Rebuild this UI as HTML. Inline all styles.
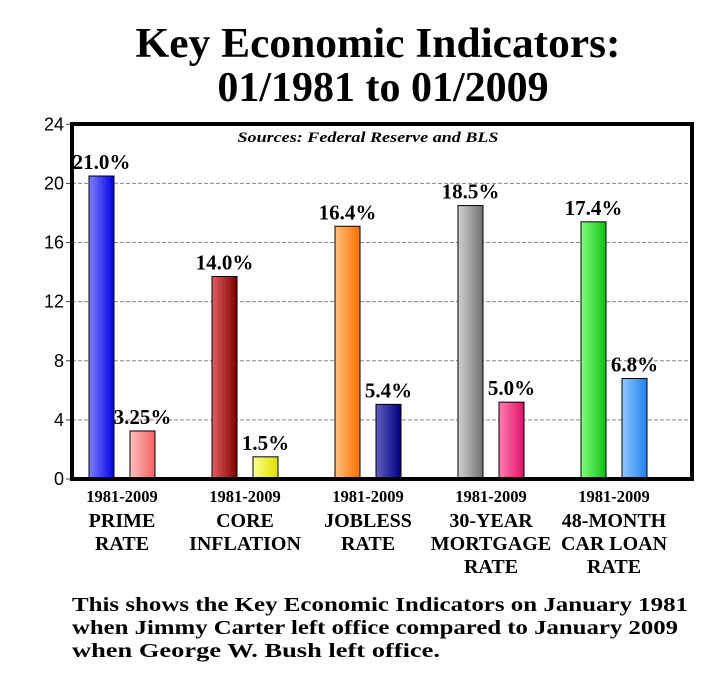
<!DOCTYPE html>
<html><head><meta charset="utf-8"><style>
body{margin:0;background:#fff;width:710px;height:684px;overflow:hidden;font-family:"Liberation Serif",serif}
</style></head><body>
<svg width="710" height="684">
<defs></defs>
<text x="378" y="57" text-anchor="middle" font-size="42" font-weight="bold" textLength="485" lengthAdjust="spacingAndGlyphs">Key Economic Indicators:</text>
<text x="383" y="101" text-anchor="middle" font-size="42" font-weight="bold">01/1981 to 01/2009</text>
<g id="plot"></g>
<text x="72" y="611" font-size="20" font-weight="bold" textLength="616" lengthAdjust="spacingAndGlyphs">This shows the Key Economic Indicators on January 1981</text>
<text x="72" y="634" font-size="20" font-weight="bold" textLength="606" lengthAdjust="spacingAndGlyphs">when Jimmy Carter left office compared to January 2009</text>
<text x="72" y="657" font-size="20" font-weight="bold" textLength="368" lengthAdjust="spacingAndGlyphs">when George W. Bush left office.</text>
</svg>
<script>
const categories=[["PRIME","RATE"],["CORE","INFLATION"],["JOBLESS","RATE"],["30-YEAR","MORTGAGE","RATE"],["48-MONTH","CAR LOAN","RATE"]];
const values1981=[20.5,13.7,17.1,18.5,17.4];
const values2009=[3.25,1.5,5.05,5.2,6.8];
const labels1981=["21.0%","14.0%","16.4%","18.5%","17.4%"];
const labels2009=["3.25%","1.5%","5.4%","5.0%","6.8%"];
const yTicks=[0,4,8,12,16,20,24];
const colors1981=[["#8080ff","#0000e0"],["#e06060","#800000"],["#ffc080","#ff7000"],["#d0d0d0","#707070"],["#80ff80","#10c010"]];
const colors2009=[["#ffc0c0","#f06060"],["#ffff90","#e0e000"],["#6060c0","#000080"],["#ff80b0","#e0106a"],["#90c8ff","#2080f0"]];
const NS="http://www.w3.org/2000/svg";
const plotG=document.getElementById('plot');
const y0=479,k=14.78,plotLeft=72,plotRight=692,plotTop=124;
const yScale=v=>y0-v*k;
const gx=i=>89+i*123;
function mk(t,a,p){const e=document.createElementNS(NS,t);for(const q in a)e.setAttribute(q,a[q]);(p||plotG).appendChild(e);return e;}
const defsEl=document.querySelector('defs');
function grad(id,c){const lg=mk('linearGradient',{id:id,x1:0,x2:1,y1:0,y2:0},defsEl);mk('stop',{offset:0,'stop-color':c[0]},lg);mk('stop',{offset:1,'stop-color':c[1]},lg);}
yTicks.forEach(t=>{
  if(t>0&&t<24){const l=mk('line',{x1:plotLeft,x2:plotRight,y1:yScale(t),y2:yScale(t),stroke:'#888','stroke-dasharray':'4,2','stroke-width':1});
  
  }
  const tk=mk('line',{x1:plotLeft-6,x2:plotLeft,y1:yScale(t),y2:yScale(t),stroke:'#444'});
  
  
  const tx=mk('text',{x:plotLeft-8,y:yScale(t)+6,'text-anchor':'end','font-size':18,'font-family':'Liberation Sans, sans-serif'});
  tx.textContent=t;
  
  
});
const srcText=mk('text',{x:368,y:142,'text-anchor':'middle','font-size':15,'font-weight':'bold','font-style':'italic',textLength:261,lengthAdjust:'spacingAndGlyphs'});
srcText.textContent='Sources: Federal Reserve and BLS';


categories.forEach((c,i)=>{
  grad('a'+i,colors1981[i]);grad('b'+i,colors2009[i]);
  [[values1981,labels1981,'a',0,'1981'],[values2009,labels2009,'b',41,'2009']].forEach(s=>{
    const v=s[0][i],x=gx(i)+s[3];
    const r=mk('rect',{x:x,y:yScale(v),width:25,height:y0-yScale(v),fill:'url(#'+s[2]+i+')',stroke:'#000','stroke-width':1});
    
    
    const t=mk('text',{x:x+12.5,y:yScale(v)-7,'text-anchor':'middle','font-size':21,'font-weight':'bold'});
    t.textContent=s[1][i];
    
    
  });
  const cx=gx(i)+33;
  const yr=mk('text',{x:cx,y:502,'text-anchor':'middle','font-size':16.5,'font-weight':'bold'});
  yr.textContent='1981-2009';
  
  
  c.forEach((line,j)=>{
    const t=mk('text',{x:cx,y:527+j*23,'text-anchor':'middle','font-size':20,'font-weight':'bold'});
    t.textContent=line;
    
    
  });
});
const frame=mk('rect',{x:plotLeft,y:plotTop,width:plotRight-plotLeft,height:y0-plotTop,fill:'none',stroke:'#000','stroke-width':4});


</script>
</body></html>
